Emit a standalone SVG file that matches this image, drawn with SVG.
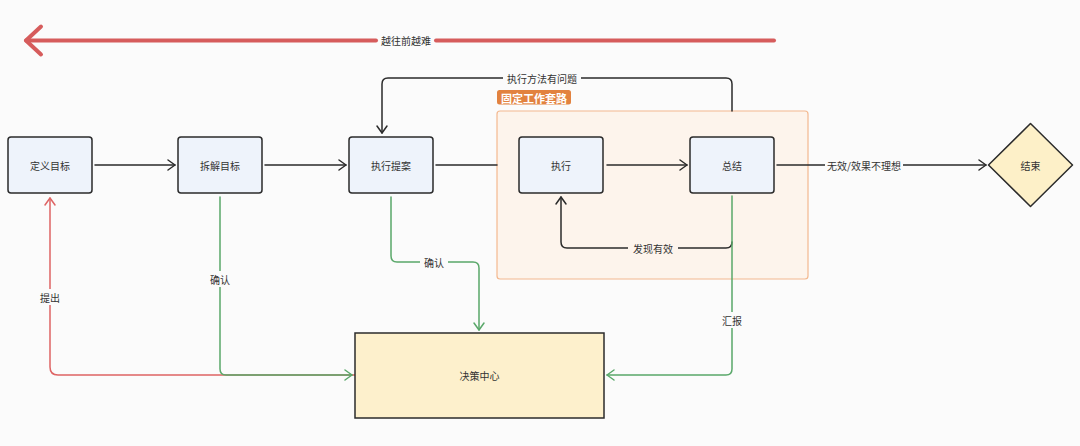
<svg xmlns="http://www.w3.org/2000/svg" width="1080" height="446" viewBox="0 0 1080 446">
<defs>
<style>
text{font-family:"Noto Sans CJK SC","Noto Sans",sans-serif;font-size:10px;fill:#333;text-anchor:middle;dominant-baseline:central}
.node{fill:#eef3fb;stroke:#2b2b2b;stroke-width:1.5}
.c{fill:none;stroke-width:1.5;stroke-linejoin:round;stroke-linecap:round}
.k{stroke:#2b2b2b}
.g{stroke:#5aa86a}
.r{stroke:#de6464}
.bg{fill:#fbfbfb}
</style>
<marker id="ak" viewBox="-10 -7 12 14" refX="0" refY="0" markerWidth="12" markerHeight="14" markerUnits="userSpaceOnUse" orient="auto"><path d="M-7,-5 L0,0 L-7,5" fill="none" stroke="#2b2b2b" stroke-width="1.5" stroke-linecap="round" stroke-linejoin="round"/></marker>
<marker id="ag" viewBox="-10 -7 12 14" refX="0" refY="0" markerWidth="12" markerHeight="14" markerUnits="userSpaceOnUse" orient="auto"><path d="M-7,-5 L0,0 L-7,5" fill="none" stroke="#5aa86a" stroke-width="1.5" stroke-linecap="round" stroke-linejoin="round"/></marker>
<marker id="ar" viewBox="-10 -7 12 14" refX="0" refY="0" markerWidth="12" markerHeight="14" markerUnits="userSpaceOnUse" orient="auto"><path d="M-7,-5 L0,0 L-7,5" fill="none" stroke="#de6464" stroke-width="1.5" stroke-linecap="round" stroke-linejoin="round"/></marker>
</defs>
<rect x="0" y="0" width="1080" height="446" fill="#fbfbfb"/>

<g id="difficulty">
<path d="M436,40.5 H774" fill="none" stroke="#d65c5c" stroke-width="4" stroke-linecap="round"/>
<path d="M376,40.5 H26" fill="none" stroke="#d65c5c" stroke-width="4" stroke-linecap="round"/>
<path d="M41,26.5 L26,40.5 L41,54.5" fill="none" stroke="#d65c5c" stroke-width="4" stroke-linecap="round" stroke-linejoin="round"/>
<text x="406" y="40.5">越往前越难</text>
</g>

<g id="fixed-routine">
<rect x="497" y="111" width="311" height="168" rx="3" fill="#fdf4ec" stroke="#f3b88f" stroke-width="1.2"/>
<rect x="497" y="90" width="74" height="14.5" rx="2.5" fill="#e2823f"/>
<text x="534" y="97.5" style="fill:#fff;font-size:11px;font-weight:bold">固定工作套路</text>
</g>

<g id="connectors">
<path class="c r" d="M355,375 H58 Q50,375 50,367 V198" marker-end="url(#ar)"/>
<rect class="bg" x="38" y="289" width="24" height="16"/>
<text x="50" y="297">提出</text>

<path class="c g" d="M220,197 V369 Q220,375 226,375 H352" marker-end="url(#ag)"/>
<rect class="bg" x="208" y="271" width="24" height="16"/>
<text x="220" y="279">确认</text>

<path class="c g" d="M391,197 V256 Q391,262 397,262 H473 Q479,262 479,268 V330" marker-end="url(#ag)"/>
<rect class="bg" x="420" y="254" width="28" height="16"/>
<text x="434" y="262">确认</text>

<path class="c k" d="M732,242 Q732,248 726,248 H567 Q561,248 561,242 V197" marker-end="url(#ak)"/>
<rect x="628" y="240" width="50" height="16" fill="#fdf4ec"/>
<text x="653" y="248">发现有效</text>

<path class="c g" d="M732,196 V369 Q732,375 726,375 H607" marker-end="url(#ag)"/>
<rect class="bg" x="720" y="312" width="24" height="16"/>
<text x="732" y="320">汇报</text>

<path class="c k" d="M732,111 V84 Q732,78 726,78 H388 Q382,78 382,84 V133" marker-end="url(#ak)"/>
<rect class="bg" x="503" y="70" width="78" height="16"/>
<text x="542" y="78">执行方法有问题</text>

<path class="c k" d="M95,165 H175" marker-end="url(#ak)"/>
<path class="c k" d="M265,165 H346" marker-end="url(#ak)"/>
<path class="c k" d="M436,165 H497"/>
<path class="c k" d="M607,165 H687" marker-end="url(#ak)"/>
<path class="c k" d="M777,165 H986" marker-end="url(#ak)"/>
<rect class="bg" x="825" y="157" width="78" height="16"/>
<text x="864" y="165">无效/效果不理想</text>
</g>

<g id="define-goal">
<rect class="node" x="8" y="137" width="84" height="56" rx="3"/>
<text x="50" y="165">定义目标</text>
</g>
<g id="split-goal">
<rect class="node" x="178" y="137" width="84" height="56" rx="3"/>
<text x="220" y="165">拆解目标</text>
</g>
<g id="exec-proposal">
<rect class="node" x="349" y="137" width="84" height="56" rx="3"/>
<text x="391" y="165">执行提案</text>
</g>
<g id="execute">
<rect class="node" x="519" y="137" width="84" height="56" rx="3"/>
<text x="561" y="165">执行</text>
</g>
<g id="summary">
<rect class="node" x="690" y="137" width="84" height="56" rx="3"/>
<text x="732" y="165">总结</text>
</g>
<g id="end">
<path d="M1030.5,123.5 L1072.5,165 L1030.5,206.5 L988.5,165 Z" fill="#fdf0c8" stroke="#2b2b2b" stroke-width="1.5" stroke-linejoin="round"/>
<text x="1030.5" y="165">结束</text>
</g>
<g id="decision-center">
<rect x="355" y="333" width="249" height="85" fill="#fdf0cc" stroke="#2b2b2b" stroke-width="1.5"/>
<text x="479.5" y="375.5">决策中心</text>
</g>
</svg>
